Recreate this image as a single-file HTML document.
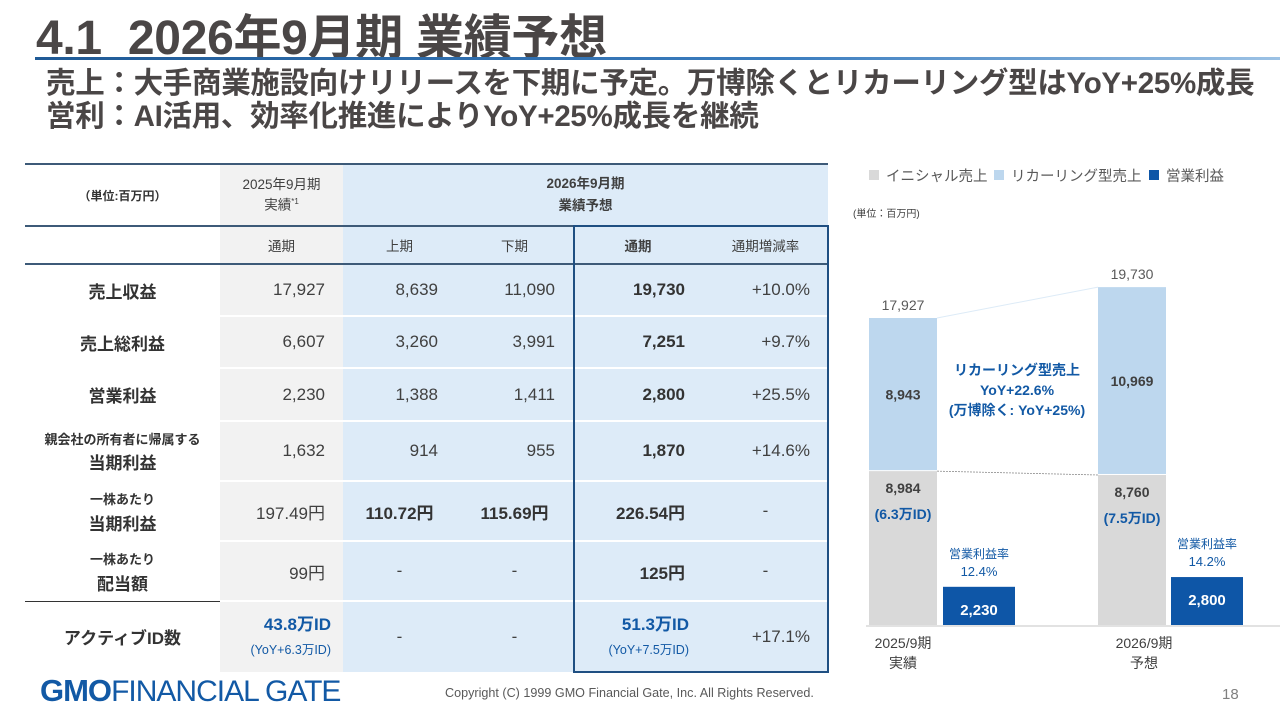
<!DOCTYPE html>
<html><head><meta charset="utf-8">
<style>
*{margin:0;padding:0;box-sizing:border-box}
body{width:1280px;height:720px;background:#fff;position:relative;overflow:hidden;font-family:"Liberation Sans","Noto Sans CJK JP",sans-serif;color:#404040}
.abs{position:absolute}
#title{left:36px;top:-2px;font-size:48px;font-weight:bold;color:#4a4646;white-space:nowrap;letter-spacing:-0.3px}
#rule{left:35px;top:57px;width:1245px;height:3px;background:linear-gradient(90deg,#1f5a96,#3b7dbf 60%,#9cc2e5)}
.sub{left:46px;font-size:29.5px;font-weight:bold;color:#4a4646;white-space:nowrap;letter-spacing:-0.3px}
table{position:absolute;left:25px;top:163px;border-collapse:collapse;table-layout:fixed;font-size:17px}
td{padding:0;text-align:right;padding-right:18px;vertical-align:middle;color:#404040;border-bottom:2px solid #fff}
td.l{text-align:center;padding-right:0;font-weight:bold;color:#333}
td.g{background:#f2f2f2}
td.b{background:#ddebf8}
td.c{text-align:center;padding-right:0}
.bd{font-weight:bold;color:#333}
.blue{color:#1259a5;font-weight:bold}
.small{font-size:12.5px;color:#1259a5;font-weight:normal}
</style></head><body>
<div class="abs" id="title">4.1&nbsp;&nbsp;2026年9月期 業績予想</div>
<div class="abs" id="rule"></div>
<div class="abs sub" style="top:60px">売上：大手商業施設向けリリースを下期に予定。万博除くとリカーリング型はYoY+25%成長</div>
<div class="abs sub" style="top:93px">営利：AI活用、効率化推進によりYoY+25%成長を継続</div>

<table>
<colgroup><col style="width:195px"><col style="width:123px"><col style="width:113px"><col style="width:117px"><col style="width:130px"><col style="width:125px"></colgroup>
<tr style="height:62px;border-top:2px solid #3d5a78;border-bottom:2px solid #3d5a78">
<td class="l" style="font-size:12px;border-bottom:2px solid #3d5a78">（単位:百万円）</td>
<td class="g c" style="font-size:13.5px;line-height:17px;border-bottom:2px solid #3d5a78">2025年9月期<br>実績<sup style="font-size:8px">*1</sup></td>
<td class="b c" colspan="4" style="font-size:13.5px;font-weight:bold;line-height:22px;border-bottom:2px solid #3d5a78">2026年9月期<br>業績予想</td></tr>
<tr style="height:38px">
<td class="l" style="border-bottom:2px solid #3d5a78"></td>
<td class="g c" style="font-size:13.5px;border-bottom:2px solid #3d5a78">通期</td>
<td class="b c" style="font-size:13.5px;border-bottom:2px solid #3d5a78">上期</td>
<td class="b c" style="font-size:13.5px;border-bottom:2px solid #3d5a78">下期</td>
<td class="b c" style="font-size:13.5px;font-weight:bold;border-bottom:2px solid #3d5a78">通期</td>
<td class="b c" style="font-size:13.5px;border-bottom:2px solid #3d5a78">通期増減率</td></tr>
<tr style="height:52px"><td class="l">売上収益</td><td class="g">17,927</td><td class="b">8,639</td><td class="b">11,090</td><td class="b bd">19,730</td><td class="b">+10.0%</td></tr>
<tr style="height:52px"><td class="l">売上総利益</td><td class="g">6,607</td><td class="b">3,260</td><td class="b">3,991</td><td class="b bd">7,251</td><td class="b">+9.7%</td></tr>
<tr style="height:53px"><td class="l">営業利益</td><td class="g">2,230</td><td class="b">1,388</td><td class="b">1,411</td><td class="b bd">2,800</td><td class="b">+25.5%</td></tr>
<tr style="height:60px"><td class="l" style="line-height:24px"><span style="font-size:13px">親会社の所有者に帰属する</span><br>当期利益</td><td class="g">1,632</td><td class="b">914</td><td class="b">955</td><td class="b bd">1,870</td><td class="b">+14.6%</td></tr>
<tr style="height:60px"><td class="l" style="line-height:25px"><span style="font-size:13px">一株あたり</span><br>当期利益</td><td class="g">197.49円</td><td class="b bd c">110.72円</td><td class="b bd c">115.69円</td><td class="b bd">226.54円</td><td class="b c">-</td></tr>
<tr style="height:60px;border-bottom:1px solid #333"><td class="l" style="line-height:25px;border-bottom:1px solid #333"><span style="font-size:13px">一株あたり</span><br>配当額</td><td class="g">99円</td><td class="b c">-</td><td class="b c">-</td><td class="b bd">125円</td><td class="b c">-</td></tr>
<tr style="height:72px"><td class="l">アクティブID数</td><td class="g" style="padding-right:12px;line-height:24px"><span class="blue">43.8万ID</span><br><span class="small">(YoY+6.3万ID)</span></td><td class="b c">-</td><td class="b c">-</td><td class="b" style="padding-right:14px;line-height:24px"><span class="blue">51.3万ID</span><br><span class="small">(YoY+7.5万ID)</span></td><td class="b">+17.1%</td></tr>
</table>
<div class="abs" style="left:573px;top:225px;width:256px;height:448px;border:2px solid #1f4f82"></div>

<svg class="abs" style="left:0;top:0" width="1280" height="720" id="chart"></svg>

<div class="abs" style="left:40px;top:673px;font-size:30px;color:#1259a5;white-space:nowrap;letter-spacing:-1px"><b style="font-size:31px">GMO</b><span style="font-weight:normal">FINANCIAL GATE</span></div>
<div class="abs" style="left:445px;top:686px;font-size:12.6px;color:#595959;white-space:nowrap">Copyright (C) 1999 GMO Financial Gate, Inc. All Rights Reserved.</div>
<div class="abs" style="left:1222px;top:686px;font-size:15px;color:#808080">18</div>

<script>
const categories=["2025/9期","2026/9期"];
const catSub=["実績","予想"];
const initialSales=[8984,8760];
const recurringSales=[8943,10969];
const totalSales=[17927,19730];
const opProfit=[2230,2800];
const opMargin=["12.4%","14.2%"];
const idLabels=["(6.3万ID)","(7.5万ID)"];
const svg=document.getElementById('chart');
const NS="http://www.w3.org/2000/svg";
const base=625, k=307/17927;
const y=v=>base-v*k;
const barX=[869,1098], barW=68, profX=[943,1171], profW=72;
const fmt=v=>v.toLocaleString('en-US');
function el(tag,attrs,txt){const e=document.createElementNS(NS,tag);for(const a in attrs)e.setAttribute(a,attrs[a]);if(txt!==undefined)e.textContent=txt;svg.appendChild(e);return e;}
const lg=[["#d9d9d9","イニシャル売上",869],["#bdd7ee","リカーリング型売上",994],["#0e56a7","営業利益",1149]];
lg.forEach(l=>{const r=el('rect',{x:l[2],y:170,width:10,height:10,fill:l[0]});


const t=el('text',{x:l[2]+17,y:181,'font-size':14.5,fill:'#595959'},l[1]);

});
const u=el('text',{x:853,y:217,'font-size':10,fill:'#404040'},'(単位：百万円)');


const ax=el('line',{x1:866,x2:1280,y1:base+1,y2:base+1,stroke:'#d9d9d9','stroke-width':1.5});


el('line',{x1:barX[0]+barW,y1:y(totalSales[0]),x2:barX[1],y2:y(totalSales[1]),stroke:'#ddebf7','stroke-width':1});
el('line',{x1:barX[0]+barW,y1:y(initialSales[0]),x2:barX[1],y2:y(initialSales[1]),stroke:'#8c8c8c','stroke-width':0.8,'stroke-dasharray':'2,1'});
for(let i=0;i<2;i++){
 const cx=barX[i]+barW/2;
 const r1=el('rect',{x:barX[i],y:y(initialSales[i]),width:barW,height:initialSales[i]*k,fill:'#d9d9d9'});
 
 
 const r2=el('rect',{x:barX[i],y:y(totalSales[i]),width:barW,height:recurringSales[i]*k-1,fill:'#bdd7ee'});
 
 
 const r3=el('rect',{x:profX[i],y:y(opProfit[i]),width:profW,height:opProfit[i]*k,fill:'#0e56a7'});
 
 
 el('text',{x:cx,y:y(totalSales[i])-8,'font-size':14,fill:'#595959','text-anchor':'middle'},fmt(totalSales[i]));
 el('text',{x:cx,y:y(totalSales[i])+recurringSales[i]*k/2+5,'font-size':14,'font-weight':'bold',fill:'#404040','text-anchor':'middle'},fmt(recurringSales[i]));
 el('text',{x:cx,y:y(initialSales[i])+22,'font-size':14,'font-weight':'bold',fill:'#404040','text-anchor':'middle'},fmt(initialSales[i]));
 el('text',{x:cx,y:y(initialSales[i])+48,'font-size':14,'font-weight':'bold',fill:'#1259a5','text-anchor':'middle'},idLabels[i]);
 const px=profX[i]+profW/2;
 el('text',{x:px,y:y(opProfit[i])+28,'font-size':15,'font-weight':'bold',fill:'#fff','text-anchor':'middle'},fmt(opProfit[i]));
 el('text',{x:px,y:y(opProfit[i])-29,'font-size':12,fill:'#1259a5','text-anchor':'middle'},'営業利益率');
 el('text',{x:px,y:y(opProfit[i])-11,'font-size':13,fill:'#1259a5','text-anchor':'middle'},opMargin[i]);
 const c1=el('text',{x:cx+(i?12:0),y:648,'font-size':14,fill:'#404040','text-anchor':'middle'},categories[i]);
 
 
 el('text',{x:cx+(i?12:0),y:668,'font-size':14,fill:'#404040','text-anchor':'middle'},catSub[i]);
}
const ann=["リカーリング型売上","YoY+22.6%","(万博除く: YoY+25%)"];
ann.forEach((s,j)=>{const t=el('text',{x:1017,y:375+j*20,'font-size':14,'font-weight':'bold',fill:'#1259a5','text-anchor':'middle'},s);

});
</script>
</body></html>
